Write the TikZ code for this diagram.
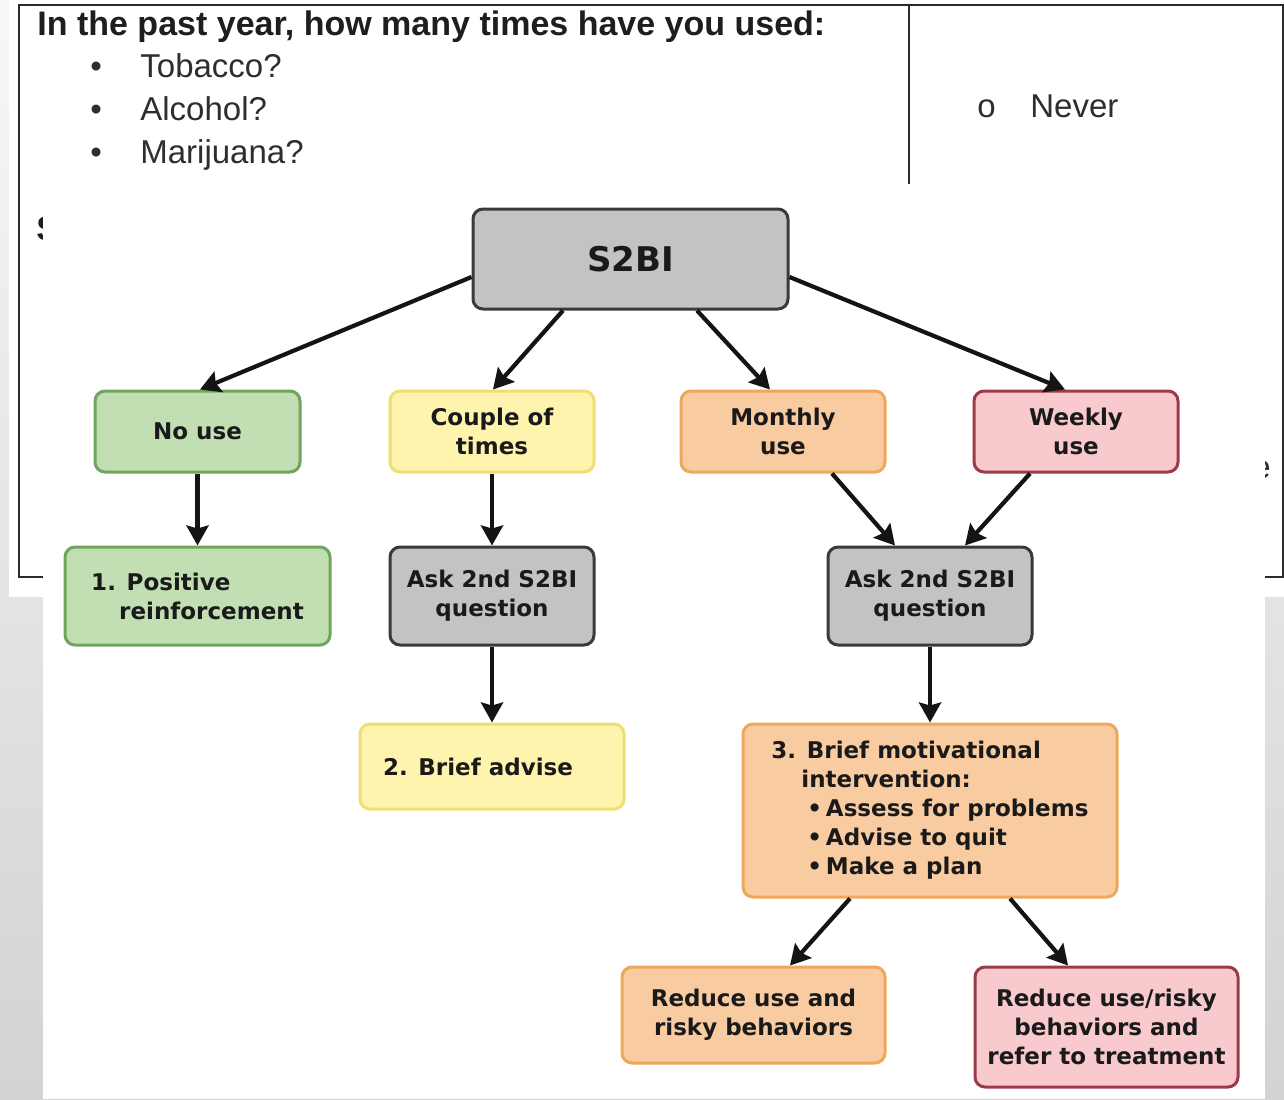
\documentclass[tikz,border=0pt]{standalone}
\usepackage{fontspec}
\setmainfont{Liberation Sans}
\newfontfamily\boxfont{DejaVu Sans}
\usetikzlibrary{arrows.meta}

\definecolor{bgtop}{HTML}{F7F7F7}
\definecolor{bgmid}{HTML}{EBEBEB}
\definecolor{bgbot}{HTML}{D3D3D3}
\definecolor{tableline}{HTML}{2A2A2A}
\definecolor{qtext}{HTML}{1E1E1E}
\definecolor{itemtext}{HTML}{2E2E2E}
\definecolor{txt}{HTML}{1A1A1A}
\definecolor{grayfill}{HTML}{C3C3C3}
\definecolor{grayline}{HTML}{3A3A3A}
\definecolor{greenfill}{HTML}{C2DEB3}
\definecolor{greenline}{HTML}{6FA65C}
\definecolor{yellowfill}{HTML}{FFF4AE}
\definecolor{yellowline}{HTML}{F0DE72}
\definecolor{orangefill}{HTML}{F8CBA1}
\definecolor{orangeline}{HTML}{EDA85C}
\definecolor{pinkfill}{HTML}{F8C9CD}
\definecolor{pinkline}{HTML}{9B3B4A}
\definecolor{arrowcol}{HTML}{141414}

\tikzset{
  box/.style={draw, rounded corners=5pt, line width=1.5pt, align=center,
    inner sep=0pt, text=txt,
    font=\boxfont\bfseries\fontsize{11.5}{14.5}\selectfont},
  graybox/.style={box, fill=grayfill, draw=grayline},
  greenbox/.style={box, fill=greenfill, draw=greenline},
  yellowbox/.style={box, fill=yellowfill, draw=yellowline},
  orangebox/.style={box, fill=orangefill, draw=orangeline},
  pinkbox/.style={box, fill=pinkfill, draw=pinkline},
  flow/.style={draw=arrowcol, line width=2.1pt,
    -{Stealth[length=10pt, width=11pt, inset=1.5pt]}},
  qline/.style={anchor=base west, inner sep=0pt, text=qtext,
    font=\bfseries\fontsize{17}{20}\selectfont},
  qitem/.style={anchor=base west, inner sep=0pt, text=itemtext,
    font=\fontsize{16.5}{20}\selectfont}
}

\begin{document}
\begin{tikzpicture}[x=0.5pt, y=-0.5pt]
\useasboundingbox (0,0) rectangle (1284,1099);

% slide background and the white page behind the questionnaire
\shade[top color=bgtop, middle color=bgmid, bottom color=bgbot]
  (0,0) rectangle (1284,1099);
\fill[white] (9,0) rectangle (1284,597);

% questionnaire table
\draw[tableline, line width=1.25pt] (19,5) rectangle (1283,577);
\draw[tableline, line width=1.25pt] (909,5) -- (909,577);
\node[qline] (question) at (37,35) {In the past year, how many times have you used:};
\node[qitem] (b1) at (90,77) {\textbullet};
\node[qitem] (b2) at (90,120) {\textbullet};
\node[qitem] (b3) at (90,163) {\textbullet};
\node[qitem] (tobacco) at (140,77) {Tobacco?};
\node[qitem] (alcohol) at (140,120) {Alcohol?};
\node[qitem] (marijuana) at (140,163) {Marijuana?};
\node[qitem] (circ) at (977,117) {o};
\node[qitem] (never) at (1030,117) {Never};
\node[qline] (nextq) at (36,240) {S};
\node[qitem, anchor=base east] (tail) at (1271,478) {e};

% white panel carrying the flowchart
\fill[white] (43,184) rectangle (1265,1099);

% flowchart boxes
\node[graybox, minimum width=157.5pt, minimum height=50pt,
  font=\boxfont\bfseries\fontsize{17}{20}\selectfont] (s2bi) at (630.5,259) {S2BI};

\node[greenbox, minimum width=102.5pt, minimum height=40.5pt] (nouse) at (197.5,431.5) {No use};
\node[yellowbox, minimum width=102pt, minimum height=40.5pt] (couple) at (492,431.5) {Couple of\\times};
\node[orangebox, minimum width=102pt, minimum height=40.5pt] (monthly) at (783,431.5) {Monthly\\use};
\node[pinkbox, minimum width=102pt, minimum height=40.5pt] (weekly) at (1076,431.5) {Weekly\\use};

\node[greenbox, minimum width=132.5pt, minimum height=49pt, align=left] (posit) at (197.5,596)
  {1. Positive\\\hspace*{14pt}reinforcement};
\node[graybox, minimum width=102pt, minimum height=49pt] (askl) at (492,596) {Ask 2nd S2BI\\question};
\node[graybox, minimum width=102pt, minimum height=49pt] (askr) at (930,596) {Ask 2nd S2BI\\question};

\node[yellowbox, minimum width=132pt, minimum height=42.5pt] (advise) at (492,766.5)
  {2. Brief advise\hspace*{14pt}};
\node[orangebox, minimum width=187pt, minimum height=86.5pt, align=left] (motiv) at (930,810.5)
  {3. Brief motivational\\
   \hspace*{15pt}intervention:\\
   \hspace*{18pt}\textbullet\,Assess for problems\\
   \hspace*{18pt}\textbullet\,Advise to quit\\
   \hspace*{18pt}\textbullet\,Make a plan};

\node[orangebox, minimum width=131.5pt, minimum height=48pt] (redl) at (753.5,1015)
  {Reduce use and\\risky behaviors};
\node[pinkbox, minimum width=131.5pt, minimum height=60pt] (redr) at (1106.5,1027)
  {Reduce use/risky\\behaviors and\\refer to treatment};

% connectors
\draw[flow] ([yshift=-9pt]s2bi.west) -- ([xshift=1.25pt]nouse.north);
\draw[flow] ([xshift=-33.75pt]s2bi.south) -- ([xshift=0.5pt]couple.north);
\draw[flow] ([xshift=33.25pt]s2bi.south) -- ([xshift=-6.5pt]monthly.north);
\draw[flow] ([yshift=-9pt]s2bi.east) -- ([xshift=-5.5pt]weekly.north);

\draw[flow] (nouse.south) -- (posit.north);
\draw[flow] (couple.south) -- (askl.north);
\draw[flow] ([xshift=24.5pt]monthly.south) -- ([xshift=-17.5pt]askr.north);
\draw[flow] ([xshift=-23pt]weekly.south) -- ([xshift=17.5pt]askr.north);

\draw[flow] (askl.south) -- (advise.north);
\draw[flow] (askr.south) -- (motiv.north);

\draw[flow] ([xshift=-40pt]motiv.south) -- ([xshift=18.25pt]redl.north);
\draw[flow] ([xshift=40pt]motiv.south) -- ([xshift=-19.25pt]redr.north);
\end{tikzpicture}
\end{document}
